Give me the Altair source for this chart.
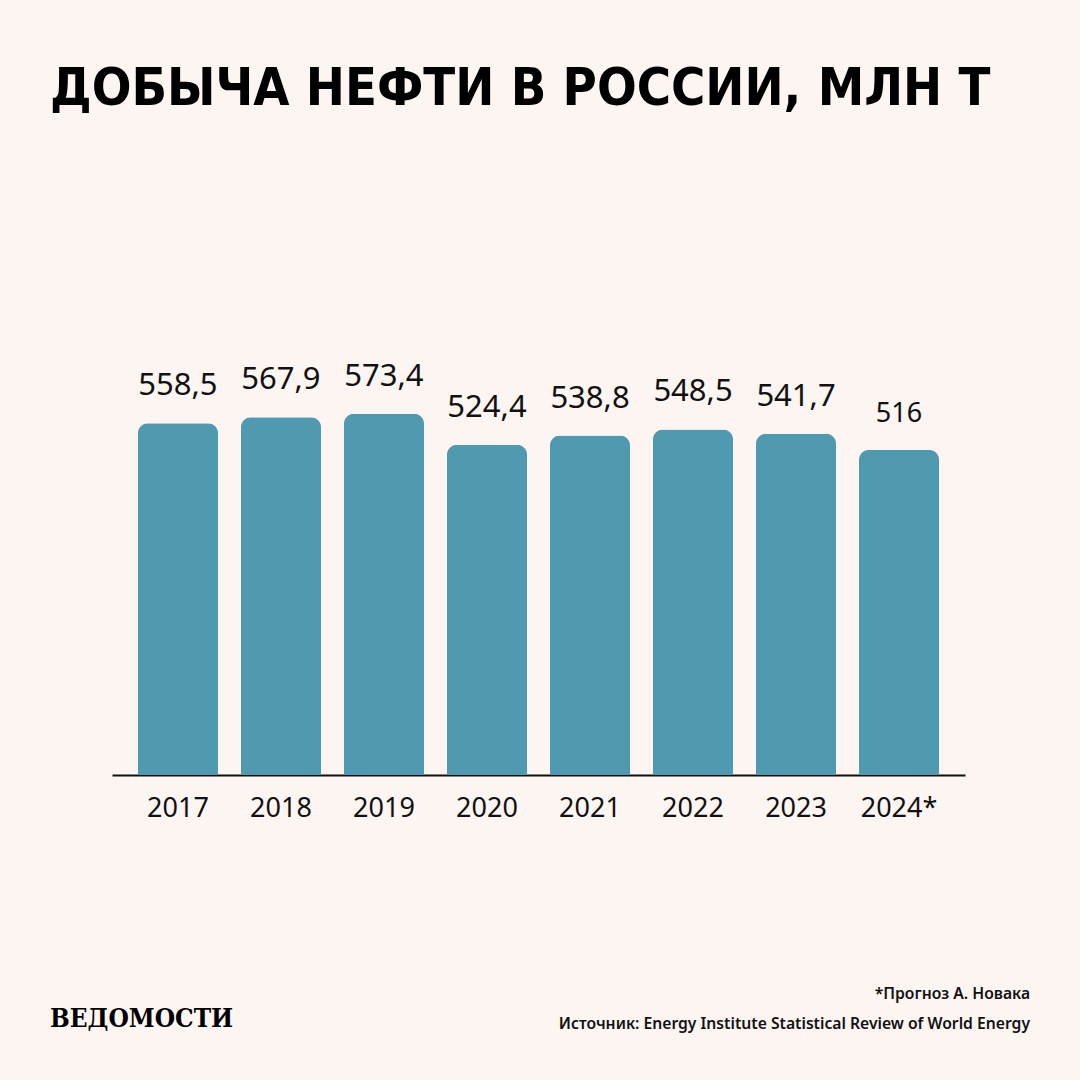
import altair as alt
import pandas as pd

years = ["2017", "2018", "2019", "2020", "2021", "2022", "2023", "2024*"]
values = [558.5, 567.9, 573.4, 524.4, 538.8, 548.5, 541.7, 516]

title_text = "ДОБЫЧА НЕФТИ В РОССИИ, МЛН Т"
note_text = "*Прогноз А. Новака"
source_text = "Источник: Energy Institute Statistical Review of World Energy"
logo_text = "ВЕДОМОСТИ"

df = pd.DataFrame({"year": years, "value": values})

BG = "#fcf5f1"
BAR = "#4f9ab0"
INK = "#111111"

base = alt.Chart(df).transform_calculate(
    label="replace(format(datum.value, '.1~f'), '.', ',')"
).encode(
    x=alt.X(
        "year:N",
        sort=years,
        scale=alt.Scale(paddingInner=0.223, paddingOuter=0.252),
        axis=alt.Axis(
            title=None, labelAngle=0, labelFont="Noto Sans", labelFontSize=27,
            labelColor=INK, labelPadding=20, ticks=False, grid=False,
            domainColor=INK, domainWidth=2,
        ),
    ),
    y=alt.Y("value:Q", scale=alt.Scale(domain=[0, 1000]), axis=None),
)

bars = base.mark_bar(color=BAR, cornerRadiusTopLeft=10, cornerRadiusTopRight=10)

labels = base.mark_text(
    dy=-28, baseline="alphabetic", font="Noto Sans", color=INK
).encode(
    text="label:N",
    size=alt.condition("datum.year == '2024*'", alt.value(27), alt.value(31)),
)

def annot(txt, x, y, **kw):
    return alt.Chart(pd.DataFrame({"t": [txt]})).mark_text(**kw).encode(
        x=alt.value(x), y=alt.value(y), text="t:N"
    )

title = annot(title_text, -62, -40, align="left", baseline="alphabetic",
              font="DejaVu Sans Condensed", fontWeight="bold", fontSize=52, color="#000")
note = annot(note_text, 918, 854, align="right", baseline="alphabetic",
             font="Noto Sans", fontWeight=600, fontSize=15.7, color=INK)
source = annot(source_text, 918, 884, align="right", baseline="alphabetic",
               font="Noto Sans", fontWeight=600, fontSize=15.7, color=INK)
logo = annot(logo_text, -62, 882, align="left", baseline="alphabetic",
             font="DejaVu Serif Condensed", fontWeight="bold", fontSize=26, color="#000")

chart = alt.layer(bars, labels, title, note, source, logo).properties(
    width=853, height=630,
    padding={"left": 112, "top": 145, "right": 115, "bottom": 305},
    autosize="none",
    background=BG,
).configure_view(stroke=None)

chart.save("out.html", embed_options={"renderer": "svg", "actions": False})
